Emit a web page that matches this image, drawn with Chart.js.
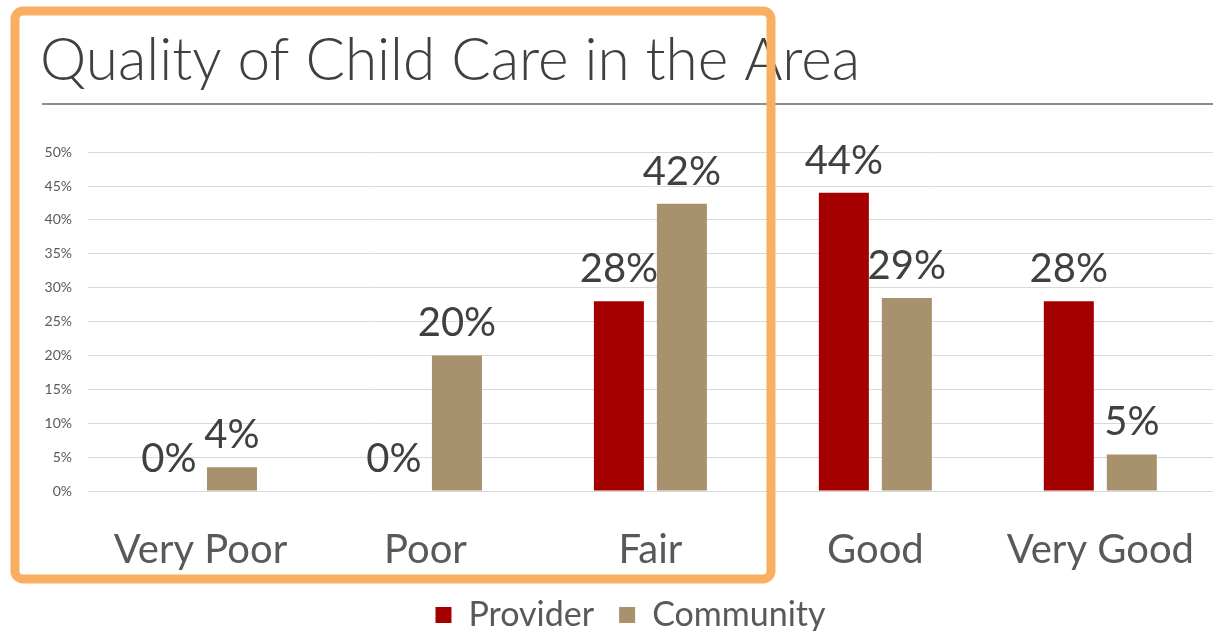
<!DOCTYPE html>
<html>
<head>
<meta charset="utf-8">
<script src="https://cdn.jsdelivr.net/npm/chart.js@4.4.1/dist/chart.umd.min.js"></script>
<style>
  html, body { margin: 0; padding: 0; background: #fff; overflow: hidden; }
  #wrap { width: 1221px; height: 631px; }
</style>
</head>
<body>
<div id="wrap"><canvas id="myChart"></canvas></div>
<script>
const CATEGORIES = ["Very Poor", "Poor", "Fair", "Good", "Very Good"];
const PROVIDER = [0, 0, 28, 44, 28];
const COMMUNITY = [3.5, 20, 42.4, 28.5, 5.4];
const PROVIDER_LABELS = ["0%", "0%", "28%", "44%", "28%"];
const COMMUNITY_LABELS = ["4%", "20%", "42%", "29%", "5%"];
const Y_TICKS = [0, 5, 10, 15, 20, 25, 30, 35, 40, 45, 50];

const FONT = "Lato, 'Open Sans', sans-serif";

// value labels above the bars
const barLabels = {
    id: 'barLabels',
    afterDatasetsDraw(chart) {
        const ctx = chart.ctx;
        ctx.save();
        ctx.font = "40px " + FONT;
        ctx.fillStyle = "#404040";
        ctx.textAlign = "center";
        ctx.textBaseline = "alphabetic";
        chart.data.datasets.forEach(function (ds, i) {
            chart.getDatasetMeta(i).data.forEach(function (bar, j) {
                ctx.fillText(ds.valueLabels[j], bar.x, bar.y - 19);
            });
        });
        ctx.restore();
    }
};

// rule under the title + the orange highlight box
const decorations = {
    id: 'decorations',
    afterDraw(chart) {
        const ctx = chart.ctx;
        ctx.save();
        ctx.strokeStyle = "#8c8c8c";
        ctx.lineWidth = 2;
        ctx.beginPath();
        ctx.moveTo(42, 104);
        ctx.lineTo(chart.width, 104);
        ctx.stroke();

        ctx.strokeStyle = "#f9ae62";
        ctx.lineWidth = 9;
        ctx.beginPath();
        ctx.roundRect(15, 11, 756, 568, 8);
        ctx.stroke();
        ctx.restore();
    }
};

const ctx1 = document.getElementById('myChart');
const myChart = new Chart(ctx1, {
    type: 'bar',
    data: {
        labels: CATEGORIES,
        datasets: [{
            label: 'Provider',
            data: PROVIDER,
            valueLabels: PROVIDER_LABELS,
            backgroundColor: '#a50000',
            categoryPercentage: 0.56,
            barPercentage: 0.794
        }, {
            label: 'Community',
            data: COMMUNITY,
            valueLabels: COMMUNITY_LABELS,
            backgroundColor: '#a8916d',
            categoryPercentage: 0.56,
            barPercentage: 0.794
        }]
    },
    options: {
        responsive: true,
        maintainAspectRatio: false,
        animation: false,
        layout: { padding: { left: 40, right: 0, top: 26, bottom: -11 } },
        scales: {
            y: {
                min: 0,
                max: 50,
                afterBuildTicks: function (scale) {
                    scale.ticks = Y_TICKS.map(function (v) { return { value: v }; });
                },
                afterFit: function (scale) { scale.width = 48; },
                border: { display: false },
                grid: { color: '#d9d9d9', lineWidth: 1, drawTicks: false },
                ticks: {
                    padding: 16,
                    color: '#595959',
                    font: { family: FONT, size: 14 },
                    callback: function (v) { return v + '%'; }
                }
            },
            x: {
                afterFit: function (scale) { scale.height = 82; },
                border: { display: false },
                grid: { display: false },
                ticks: {
                    padding: 27,
                    color: '#595959',
                    font: { family: FONT, size: 40 }
                }
            }
        },
        plugins: {
            title: {
                display: true,
                text: 'Quality of Child Care in the Area',
                align: 'start',
                color: '#404040',
                font: { family: FONT, size: 58.5, weight: '300' },
                padding: { top: 0, bottom: 56 }
            },
            legend: {
                position: 'bottom',
                labels: {
                    boxWidth: 16,
                    boxHeight: 16,
                    padding: 25,
                    color: '#595959',
                    font: { family: FONT, size: 34 }
                }
            },
            tooltip: { enabled: false }
        }
    },
    plugins: [barLabels, decorations]
});
</script>
</body>
</html>
